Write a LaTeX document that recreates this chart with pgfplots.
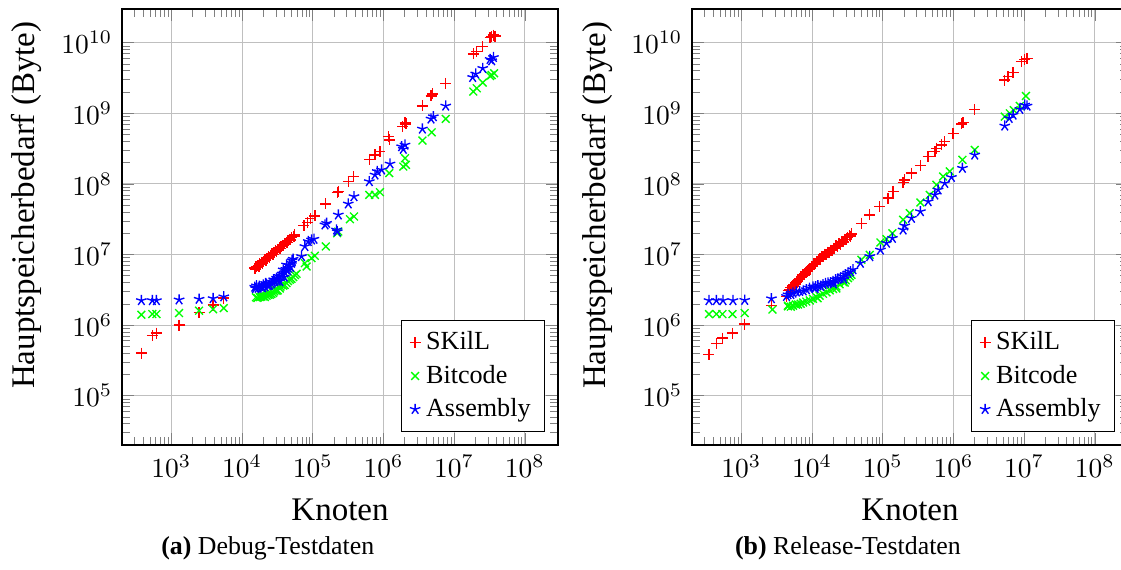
\documentclass[border=0pt]{standalone}
\usepackage{pgfplots}
\pgfplotsset{compat=1.18}
\usepackage{fontspec}
\setmainfont{Liberation Serif}

\begin{document}
\begin{tikzpicture}

% (a) Debug-Testdaten
\begin{axis}[%
xmode=log, ymode=log,%
scale only axis,%
width=158.55pt, height=158.55pt,%
xmin=200, xmax=2.95e8,%
ymin=2.0e4, ymax=3.0e10,%
grid=major,%
grid style={black!25},%
xlabel={Knoten},%
ylabel={Hauptspeicherbedarf (Byte)},%
label style={font=\fontsize{12}{14}\selectfont},%
x label style={at={(axis description cs:0.5,-0.149)},anchor=center},%
y label style={at={(axis description cs:-0.218,0.55)},rotate=0,anchor=center},%
legend pos=south east,%
legend cell align=left,%
legend style={font=\fontsize{9.5}{11}\selectfont}]
\addplot[only marks, mark=+, color=red, mark options={line width=0.5pt}] coordinates {
(376,4.0e5) (538,7.06e5) (614,7.71e5) (1284,1.0e6) (2466,1.51e6) (3890,1.92e6) (5508,2.41e6)
(1.52e4,6.41e6) (1.58e4,6.67e6) (1.68e4,7.00e6) (1.78e4,7.33e6) (1.88e4,7.69e6) (2.00e4,8.07e6)
(2.11e4,8.47e6) (2.24e4,8.87e6) (2.37e4,9.31e6) (2.51e4,9.77e6) (2.66e4,1.02e7) (2.82e4,1.07e7)
(2.99e4,1.13e7) (3.16e4,1.18e7) (3.35e4,1.24e7) (3.55e4,1.30e7) (3.76e4,1.36e7) (3.98e4,1.43e7)
(4.22e4,1.50e7) (4.47e4,1.57e7) (4.73e4,1.65e7) (5.01e4,1.73e7) (5.31e4,1.82e7) (5.56e4,1.89e7)
(1.55e4,6.24e6) (1.73e4,6.84e6) (1.94e4,7.52e6) (2.18e4,8.28e6) (2.44e4,9.10e6) (2.74e4,1.00e7)
(3.07e4,1.10e7) (3.45e4,1.21e7) (3.87e4,1.33e7) (4.34e4,1.47e7) (4.87e4,1.61e7) (5.47e4,1.78e7)
(7.48e4,2.55e7) (8.36e4,2.84e7) (9.31e4,3.20e7) (1.07e5,3.52e7) (1.53e5,5.21e7) (2.22e5,7.62e7)
(2.30e5,7.80e7) (3.18e5,1.08e8) (3.74e5,1.27e8) (6.31e5,2.23e8) (7.59e5,2.57e8) (8.93e5,2.87e8)
(1.19e6,4.68e8) (1.21e6,4.20e8) (1.87e6,6.47e8) (2.02e6,7.38e8) (2.08e6,7.06e8) (3.56e6,1.27e9)
(4.71e6,1.76e9) (4.98e6,1.88e9) (7.60e6,2.66e9) (1.87e7,6.92e9) (2.09e7,7.46e9) (2.54e7,8.78e9)
(3.23e7,1.19e10) (3.40e7,1.22e10) (3.60e7,1.28e10) (3.80e7,1.24e10)
};
\addlegendentry{SKilL}
\addplot[only marks, mark=x, color=green, mark options={line width=0.5pt}] coordinates {
(376,1.40e6) (538,1.43e6) (614,1.43e6) (1284,1.48e6) (2466,1.60e6) (3890,1.68e6) (5508,1.74e6)
(1.57e4,2.47e6) (1.78e4,2.49e6) (1.99e4,2.55e6) (2.22e4,2.60e6) (2.47e4,2.69e6) (2.75e4,2.84e6)
(3.07e4,3.06e6) (3.42e4,3.30e6) (3.82e4,3.61e6) (4.26e4,3.93e6) (4.74e4,4.39e6) (5.28e4,4.78e6)
(5.90e4,5.32e6) (1.88e4,2.69e6) (2.91e4,3.16e6) (3.61e4,3.72e6) (2.34e4,2.84e6)
(1.65e4,2.42e6) (1.87e4,2.52e6) (2.10e4,2.50e6) (2.35e4,2.68e6) (2.60e4,2.75e6) (2.85e4,3.00e6)
(3.20e4,3.10e6) (3.50e4,3.50e6) (4.00e4,3.70e6) (4.45e4,4.20e6) (5.00e4,4.50e6) (5.60e4,5.10e6)
(7.74e4,7.54e6) (8.17e4,6.76e6) (9.62e4,8.87e6) (1.07e5,9.57e6) (1.53e5,1.30e7) (2.22e5,2.00e7)
(2.30e5,2.11e7) (3.36e5,3.16e7) (3.83e5,3.45e7) (6.31e5,6.98e7) (7.59e5,6.98e7) (8.93e5,7.62e7)
(1.21e6,1.42e8) (1.91e6,1.76e8) (2.02e6,2.31e8) (2.08e6,1.86e8) (3.56e6,4.10e8) (4.82e6,5.38e8)
(7.60e6,8.32e8) (1.87e7,2.03e9) (2.09e7,2.26e9) (2.54e7,2.72e9) (3.23e7,3.37e9) (3.40e7,3.48e9)
(3.68e7,3.68e9)
};
\addlegendentry{Bitcode}
\addplot[only marks, mark=star, color=blue, mark options={line width=0.5pt}] coordinates {
(376,2.23e6) (538,2.23e6) (614,2.23e6) (1284,2.28e6) (2466,2.33e6) (3890,2.38e6) (5508,2.52e6)
(1.51e4,3.45e6) (1.60e4,3.61e6) (1.69e4,3.34e6) (1.88e4,3.45e6) (1.99e4,3.72e6) (2.10e4,3.52e6)
(2.22e4,3.80e6) (2.34e4,3.64e6) (2.61e4,3.85e6) (2.91e4,4.15e6) (3.07e4,4.62e6) (3.24e4,4.48e6)
(3.42e4,4.15e6) (3.61e4,4.99e6) (3.82e4,6.07e6) (4.03e4,5.56e6) (4.26e4,7.14e6) (4.50e4,6.41e6)
(5.01e4,7.54e6) (5.28e4,8.59e6)
(1.55e4,3.30e6) (1.75e4,3.55e6) (1.95e4,3.40e6) (2.15e4,3.90e6) (2.45e4,3.70e6) (2.70e4,4.05e6)
(2.80e4,4.40e6) (3.15e4,4.20e6) (3.35e4,4.90e6) (3.70e4,5.30e6) (3.95e4,4.80e6) (4.15e4,6.20e6)
(4.40e4,5.90e6) (4.65e4,7.00e6) (4.85e4,6.60e6) (5.10e4,8.20e6)
(6.93e4,9.38e6) (7.74e4,1.30e7) (8.63e4,1.53e7) (9.62e4,1.61e7) (1.04e5,1.65e7) (1.49e5,2.63e7)
(1.57e5,2.77e7) (2.17e5,2.23e7) (2.22e5,2.11e7) (2.30e5,3.64e7) (3.18e5,5.21e7) (3.83e5,6.62e7)
(6.31e5,1.08e8) (7.59e5,1.34e8) (8.18e5,1.50e8) (9.44e5,1.58e8) (1.24e6,1.92e8) (1.81e6,3.37e8)
(1.91e6,3.10e8) (2.02e6,3.56e8) (3.56e6,6.00e8) (4.71e6,8.32e8) (5.08e6,8.97e8) (7.60e6,1.27e9)
(1.83e7,3.23e9) (2.02e7,3.61e9) (2.54e7,4.34e9) (3.23e7,5.81e9) (3.40e7,5.56e9) (3.60e7,6.19e9)
};
\addlegendentry{Assembly}
\end{axis}
\node[font=\fontsize{9.4}{11}\selectfont] at (53pt,-37.5pt) {\textbf{(a)} Debug-Testdaten};

% (b) Release-Testdaten
\begin{axis}[%
at={(207.27pt,0pt)},%
xmode=log, ymode=log,%
scale only axis,%
width=158.55pt, height=158.55pt,%
xmin=200, xmax=2.95e8,%
ymin=2.0e4, ymax=3.0e10,%
grid=major,%
grid style={black!25},%
xlabel={Knoten},%
ylabel={Hauptspeicherbedarf (Byte)},%
label style={font=\fontsize{12}{14}\selectfont},%
x label style={at={(axis description cs:0.5,-0.149)},anchor=center},%
y label style={at={(axis description cs:-0.218,0.55)},rotate=0,anchor=center},%
legend pos=south east,%
legend cell align=left,%
legend style={font=\fontsize{9.5}{11}\selectfont}]
\addplot[only marks, mark=+, color=red, mark options={line width=0.5pt}] coordinates {
(348,3.80e5) (443,5.45e5) (538,6.55e5) (747,7.71e5) (1114,1.03e6) (2660,1.88e6) (4340,2.55e6)
(4.57e3,3.09e6) (5.01e3,3.39e6) (5.50e3,3.72e6) (6.03e3,4.13e6) (6.61e3,4.55e6) (7.41e3,5.13e6)
(8.13e3,5.62e6) (8.91e3,6.17e6) (9.77e3,6.76e6) (1.07e4,7.41e6) (1.15e4,7.94e6) (1.26e4,8.59e6)
(1.38e4,9.31e6) (1.51e4,1.01e7) (1.66e4,1.08e7) (1.82e4,1.15e7) (2.00e4,1.23e7) (2.19e4,1.32e7)
(2.40e4,1.41e7) (2.63e4,1.52e7) (2.88e4,1.64e7) (3.16e4,1.75e7) (3.39e4,1.85e7) (3.63e4,1.95e7)
(4.79e3,3.15e6) (5.25e3,3.45e6) (5.76e3,3.80e6) (6.31e3,4.20e6) (7.00e3,4.70e6) (7.76e3,5.15e6)
(8.51e3,5.70e6) (9.33e3,6.20e6) (1.02e4,6.85e6) (1.11e4,7.40e6) (1.20e4,7.95e6) (1.32e4,8.60e6)
(1.45e4,9.30e6) (1.58e4,1.00e7) (1.74e4,1.07e7) (1.91e4,1.14e7) (2.09e4,1.22e7) (2.29e4,1.30e7)
(2.51e4,1.40e7) (2.75e4,1.51e7) (3.02e4,1.63e7) (3.50e4,1.82e7)
(4.99e4,2.77e7) (6.55e4,3.64e7) (9.08e4,4.78e7) (1.19e5,6.27e7) (1.40e5,7.80e7) (1.94e5,1.04e8)
(2.05e5,1.14e8) (2.55e5,1.42e8) (3.41e5,1.82e8) (4.39e5,2.44e8) (5.45e5,2.87e8) (5.74e5,3.20e8)
(6.76e5,3.56e8) (7.54e5,3.97e8) (9.89e5,5.21e8) (1.30e6,7.06e8) (1.37e6,7.38e8) (2.00e6,1.14e9)
(5.32e6,2.96e9) (5.94e6,3.31e9) (6.98e6,3.76e9) (9.16e6,5.38e9) (1.02e7,5.81e9) (1.10e7,6.00e9)
};
\addlegendentry{SKilL}
\addplot[only marks, mark=x, color=green, mark options={line width=0.5pt}] coordinates {
(348,1.43e6) (443,1.43e6) (538,1.43e6) (747,1.43e6) (1114,1.48e6) (2750,1.66e6) (4560,1.88e6)
(4.57e3,1.84e6) (5.38e3,1.88e6) (6.34e3,1.96e6) (7.46e3,2.09e6) (9.27e3,2.23e6) (1.15e4,2.49e6)
(1.43e4,2.77e6) (1.78e4,3.10e6) (2.21e4,3.52e6) (2.75e4,4.06e6) (3.23e4,4.62e6) (3.61e4,5.15e6)
(5.0e3,1.82e6) (5.9e3,1.95e6) (6.9e3,2.00e6) (8.3e3,2.15e6) (1.03e4,2.35e6) (1.28e4,2.60e6)
(1.60e4,2.90e6) (1.98e4,3.25e6) (2.45e4,3.80e6) (3.0e4,4.30e6) (3.4e4,4.9e6) (1.2e4,2.4e6)
(2.2e4,3.3e6) (2.9e4,4.0e6)
(4.99e4,8.41e6) (6.55e4,9.89e6) (9.27e4,1.48e7) (1.13e5,1.65e7) (1.37e5,2.00e7) (1.94e5,3.10e7)
(2.41e5,3.85e7) (3.41e5,5.44e7) (4.62e5,6.98e7) (5.74e5,9.68e7) (7.14e5,1.27e8) (8.87e5,1.50e8)
(1.34e6,2.19e8) (2.00e6,3.03e8) (5.32e6,8.97e8) (6.27e6,1.00e9) (7.14e6,1.11e9) (8.69e6,1.27e9)
(1.06e7,1.76e9)
};
\addlegendentry{Bitcode}
\addplot[only marks, mark=star, color=blue, mark options={line width=0.5pt}] coordinates {
(348,2.23e6) (443,2.23e6) (549,2.23e6) (760,2.23e6) (1114,2.25e6) (2660,2.37e6) (4340,2.55e6)
(4.56e3,2.70e6) (5.37e3,2.85e6) (6.68e3,3.01e6) (8.30e3,3.18e6) (1.03e4,3.47e6) (1.21e4,3.62e6)
(1.43e4,3.74e6) (1.68e4,3.95e6) (1.98e4,4.17e6) (2.32e4,4.50e6) (2.74e4,4.90e6) (3.22e4,5.47e6)
(3.79e4,6.10e6)
(5.0e3,2.72e6) (6.0e3,2.95e6) (7.5e3,3.05e6) (9.2e3,3.35e6) (1.12e4,3.50e6) (1.32e4,3.55e6)
(1.55e4,3.90e6) (1.82e4,4.00e6) (2.15e4,4.40e6) (2.50e4,4.60e6) (2.95e4,5.20e6) (3.50e4,5.70e6)
(1.10e4,3.30e6) (2.0e4,3.85e6) (2.8e4,4.5e6)
(4.83e4,7.54e6) (6.55e4,9.38e6) (9.27e4,1.16e7) (1.13e5,1.45e7) (1.37e5,1.70e7) (1.94e5,2.23e7)
(2.05e5,2.55e7) (2.55e5,3.27e7) (3.41e5,4.06e7) (4.39e5,5.62e7) (5.45e5,6.98e7) (6.07e5,8.22e7)
(7.54e5,1.02e8) (9.37e5,1.24e8) (1.34e6,1.67e8) (2.00e6,2.57e8) (5.32e6,6.62e8) (6.14e6,8.49e8)
(6.98e6,9.46e8) (8.69e6,1.14e9) (1.02e7,1.31e9) (1.10e7,1.27e9)
};
\addlegendentry{Assembly}
\end{axis}
\node[font=\fontsize{9.4}{11}\selectfont] at (263.97pt,-37.5pt) {\textbf{(b)} Release-Testdaten};

\pgfresetboundingbox
\path[use as bounding box] (-44.36pt,-45.09pt) rectangle (363.27pt,161.82pt);
\end{tikzpicture}
\end{document}
